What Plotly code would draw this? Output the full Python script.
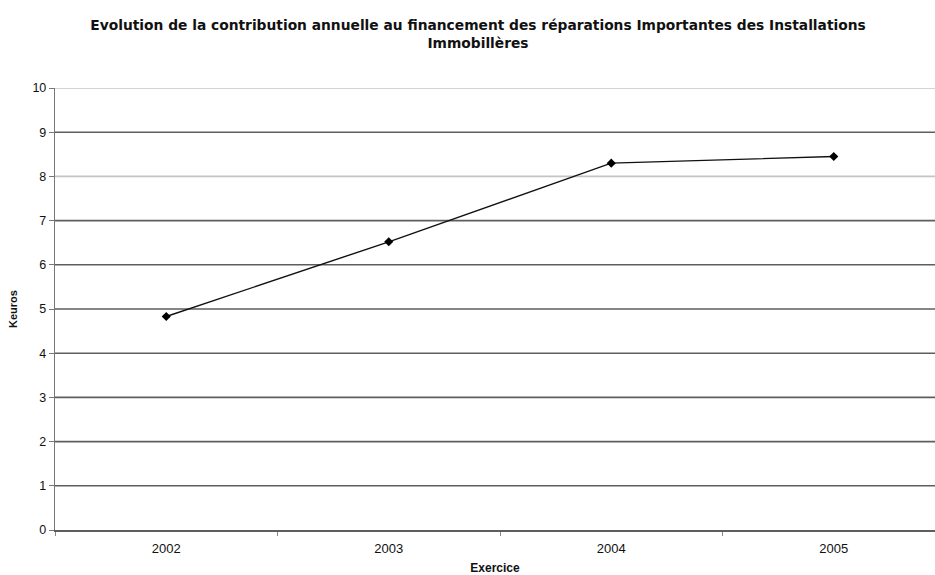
import plotly.graph_objects as go

# Contribution annuelle (k€) par exercice
exercices = ["2002", "2003", "2004", "2005"]
keuros = [4.83, 6.52, 8.30, 8.45]

y_ticks = list(range(0, 11))
grid_dark = [1, 2, 3, 4, 5, 6, 7, 9]
grid_light = [8, 10]

FONT = "Liberation Sans, Arial, sans-serif"
TITLE_FONT = "DejaVu Sans, Liberation Sans, sans-serif"

fig = go.Figure()
fig.add_trace(go.Scatter(
    x=exercices, y=keuros, mode="lines+markers",
    line=dict(color="#111111", width=1.4),
    marker=dict(symbol="diamond", size=7, color="#000000"),
    showlegend=False, cliponaxis=False,
))

shapes = []
for v in grid_dark:
    shapes.append(dict(type="line", xref="paper", x0=0, x1=1, yref="y", y0=v, y1=v,
                       line=dict(color="#5e5e5e", width=1.6), layer="below"))
for v in grid_light:
    shapes.append(dict(type="line", xref="paper", x0=0, x1=1, yref="y", y0=v, y1=v,
                       line=dict(color="#c4c4c4", width=1.6), layer="below"))

fig.update_layout(
    width=935, height=575,
    margin=dict(l=55, r=0, t=88, b=45),
    paper_bgcolor="white", plot_bgcolor="white",
    font=dict(family=FONT, color="#111111", size=12),
    title=dict(
        text="<b>Evolution de la contribution annuelle au financement des réparations Importantes des Installations<br>Immobillères</b>",
        x=478 / 935, xanchor="center", xref="container",
        y=1 - 30 / 575, yanchor="top", yref="container",
        font=dict(family=TITLE_FONT, size=13.8, color="#111111"),
    ),
    shapes=shapes,
    xaxis=dict(
        type="category", range=[-0.5, 3.455],
        showgrid=False, showline=True, linecolor="#5e5e5e", linewidth=1.6,
        ticks="outside", tickson="boundaries", ticklen=4, tickcolor="#888888", tickwidth=1,
        tickfont=dict(size=13, color="#111111"), ticklabelstandoff=6,
        title=dict(text="<b>Exercice</b>", font=dict(size=12, color="#111111"), standoff=9),
    ),
    yaxis=dict(
        range=[0, 10], tickvals=y_ticks, showgrid=False, zeroline=False,
        showline=True, linecolor="#777777", linewidth=1.4,
        ticks="outside", ticklen=5, tickcolor="#777777", tickwidth=1,
        tickfont=dict(size=12.5, color="#111111"),
        title=dict(text="<b>Keuros</b>", font=dict(size=11, color="#111111"), standoff=12),
    ),
)

fig.write_html("out.html")
